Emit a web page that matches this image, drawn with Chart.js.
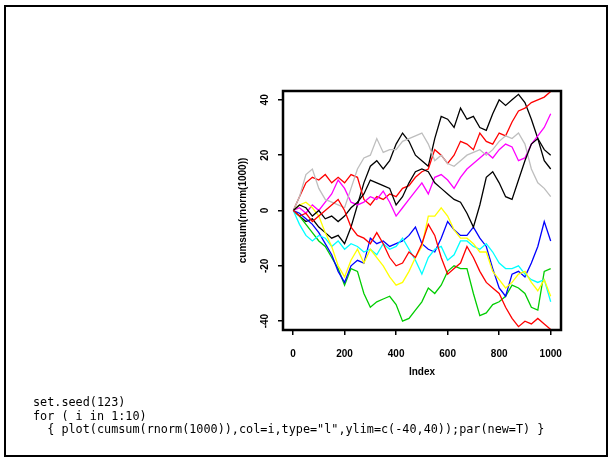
<!DOCTYPE html>
<html>
<head>
<meta charset="utf-8">
<script src="https://cdn.jsdelivr.net/npm/chart.js@4"></script>
<style>
  html, body { margin: 0; padding: 0; background: #fff; }
  #wrap { position: relative; width: 612px; height: 461px; overflow: hidden; }
  #frame { position: absolute; left: 4px; top: 5px; width: 604px; height: 452px; border: 2px solid #000; box-sizing: border-box; }
  #plot { position: absolute; left: 0; top: 0; }
  #code { position: absolute; left: 33px; top: 396px; margin: 0; font-family: "DejaVu Sans Mono", "Liberation Mono", monospace; font-size: 11.8px; line-height: 13.5px; color: #000; }
</style>
</head>
<body>
<div id="wrap">
  <div id="frame"></div>
  <canvas id="plot" width="612" height="461"></canvas>
<pre id="code">set.seed(123)
for ( i in 1:10)
  { plot(cumsum(rnorm(1000)),col=i,type="l",ylim=c(-40,40));par(new=T) }</pre>
</div>
<script>
// sample positions along the walk
const idx = [1, 25, 50, 75, 100, 125, 150, 175, 200, 225, 250, 275, 300, 325, 350, 375, 400, 425, 450, 475, 500,
  525, 550, 575, 600, 625, 650, 675, 700, 725, 750, 775, 800, 825, 850, 875, 900, 925, 950, 975, 1000];

// cumulative sums, one walk per colour
const walk1 = [0, -2, -4, -3, -6, -8, -10, -9, -12, -6, 2, 10, 16, 18, 15, 18, 24, 28, 25, 20, 18,
  16, 26, 34, 33, 30, 37, 33, 34, 30, 29, 35, 40, 38, 40, 42, 39, 33, 26, 22, 20];
const walk2 = [0, 5, 10, 12, 11, 13, 10, 12, 10, 13, 12, 4, 2, 5, 4, 6, 5, 8, 9, 12, 14,
  15, 22, 20, 17, 20, 25, 24, 22, 28, 25, 24, 28, 27, 32, 36, 37, 39, 40, 41, 43];
const walk3 = [0, -2, -5, -8, -11, -13, -17, -21, -27, -21, -22, -30, -35, -33, -32, -31, -34, -40, -39, -36, -33,
  -28, -30, -27, -22, -20, -21, -21, -30, -38, -37, -34, -33, -31, -27, -28, -30, -35, -36, -22, -21];
const walk4 = [0, -1, -3, -5, -8, -12, -16, -22, -26, -20, -18, -19, -10, -12, -11, -13, -12, -11, -9, -6, -12,
  -14, -15, -10, -4, -7, -9, -9, -6, -10, -13, -21, -28, -31, -23, -22, -24, -19, -13, -4, -11];
const walk5 = [0, -5, -9, -11, -9, -10, -13, -11, -14, -12, -13, -15, -14, -16, -12, -14, -13, -10, -14, -18, -23,
  -17, -14, -13, -18, -16, -11, -11, -13, -14, -12, -15, -19, -21, -21, -20, -23, -25, -26, -25, -33];
const walk6 = [0, 1, -1, 2, 0, 3, 6, 11, 8, 3, 2, 3, 5, 4, 7, 3, -2, 1, 4, 7, 10,
  6, 12, 13, 11, 8, 12, 15, 17, 19, 21, 19, 22, 24, 23, 18, 19, 24, 27, 30, 35];
const walk7 = [0, 2, 3, 1, -2, -8, -13, -20, -24, -18, -14, -19, -14, -17, -20, -24, -27, -26, -22, -17, -13,
  -2, -2, 1, -2, -7, -10, -10, -12, -15, -15, -22, -25, -28, -26, -23, -22, -26, -29, -25, -31];
const walk8 = [0, 5, 13, 15, 8, 4, 3, 2, 1, 8, 15, 19, 20, 26, 21, 22, 22, 25, 26, 27, 28,
  24, 18, 20, 17, 16, 18, 20, 21, 22, 20, 22, 25, 27, 26, 28, 24, 15, 10, 8, 5];
const walk9 = [0, 2, 1, -2, 0, -3, -2, -4, -2, 1, 3, 6, 11, 10, 9, 8, 2, 5, 10, 14, 15,
  14, 10, 8, 6, 4, 3, -1, -6, 2, 12, 14, 10, 5, 4, 11, 18, 24, 26, 18, 15];
const walk10 = [0, -2, -1, -4, -2, 0, 2, 4, 0, -6, -9, -10, -12, -8, -12, -17, -20, -19, -15, -17, -12,
  -5, -9, -17, -23, -21, -19, -13, -17, -22, -26, -28, -30, -35, -39, -42, -40, -41, -39, -41, -43];

const walks = [walk1, walk2, walk3, walk4, walk5, walk6, walk7, walk8, walk9, walk10];
// R's default palette, recycled for i = 9, 10
const palette = ["#000000", "#FF0000", "#00CD00", "#0000FF", "#00FFFF", "#FF00FF", "#FFFF00", "#BEBEBE"];

const xTicks = [0, 200, 400, 600, 800, 1000];
const yTicks = [-40, -20, 0, 20, 40];

const axisFont = { family: "'Liberation Sans', Arial, sans-serif", size: 10, weight: "bold" };

// box round the plot region, as plot() draws it
const boxPlugin = {
  id: "box",
  afterDraw(chart) {
    const { ctx, chartArea: a } = chart;
    ctx.save();
    ctx.strokeStyle = "#000";
    ctx.lineWidth = 2.5;
    ctx.strokeRect(a.left, a.top, a.right - a.left, a.bottom - a.top);
    ctx.restore();
  },
};

const ctx = document.getElementById("plot").getContext("2d");
new Chart(ctx, {
  type: "line",
  data: {
    datasets: walks.map((w, i) => ({
      label: "walk" + (i + 1),
      data: idx.map((x, k) => ({ x: x, y: w[k] })),
      borderColor: palette[i % palette.length],
      borderWidth: 1.3,
      pointRadius: 0,
      tension: 0,
      fill: false,
      order: walks.length - i,
    })),
  },
  options: {
    responsive: false,
    animation: false,
    layout: { padding: { top: 91, right: 51, left: 0, bottom: 0 } },
    plugins: { legend: { display: false }, tooltip: { enabled: false } },
    scales: {
      x: {
        type: "linear",
        min: -39,
        max: 1040,
        afterFit: (s) => { s.height = 131; },
        afterBuildTicks: (s) => { s.ticks = xTicks.map((v) => ({ value: v })); },
        grid: { drawOnChartArea: false, drawTicks: true, tickLength: 5, color: "#000", lineWidth: 1.5 },
        border: { display: false },
        ticks: { color: "#000", font: axisFont, padding: 13, maxRotation: 0, callback: (v) => String(v) },
        title: { display: true, text: "Index", color: "#000", font: axisFont, padding: { top: 0, bottom: 83 } },
      },
      y: {
        type: "linear",
        min: -43.2,
        max: 43.2,
        afterFit: (s) => { s.width = 283; },
        afterBuildTicks: (s) => { s.ticks = yTicks.map((v) => ({ value: v })); },
        grid: { drawOnChartArea: false, drawTicks: true, tickLength: 5, color: "#000", lineWidth: 1.5 },
        border: { display: false },
        ticks: { color: "#000", font: axisFont, padding: 6, minRotation: 90, maxRotation: 90, crossAlign: "center", callback: (v) => String(v) },
        title: { display: true, text: "cumsum(rnorm(1000))", color: "#000", font: axisFont, padding: { top: 237, bottom: 0 } },
      },
    },
  },
  plugins: [boxPlugin],
});
</script>
</body>
</html>
